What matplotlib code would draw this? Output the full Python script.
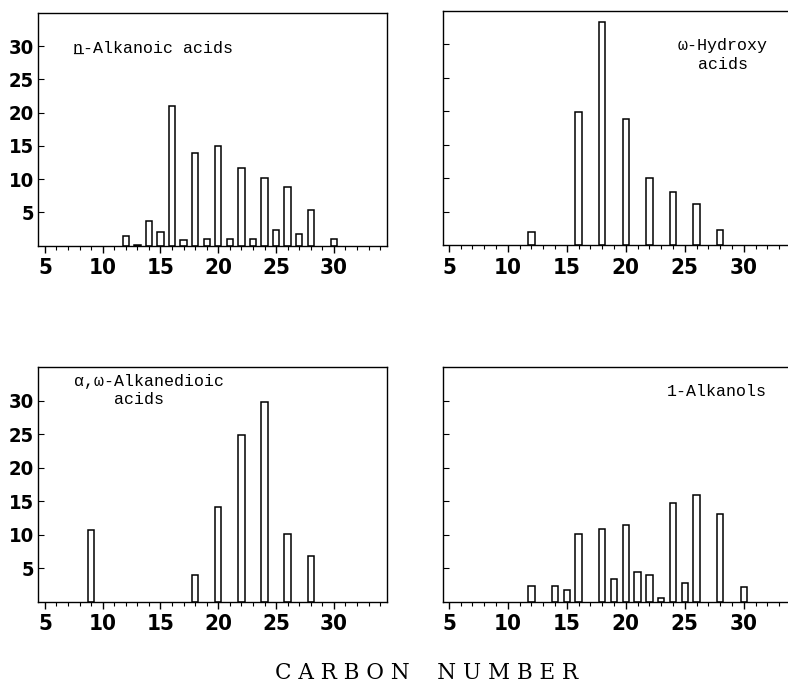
import matplotlib
matplotlib.use('Agg')
import matplotlib.pyplot as plt
from matplotlib.ticker import MultipleLocator

# carbon number / relative abundance (%)
alkanoic_c = [12, 13, 14, 15, 16, 17, 18, 19, 20, 21, 22, 23, 24, 25, 26, 27, 28, 30]
alkanoic_v = [1.4, 0.15, 3.7, 2.0, 21.0, 0.8, 13.9, 1.0, 15.0, 1.0, 11.6, 1.0, 10.1, 2.3, 8.75, 1.8, 5.3, 1.0]

hydroxy_c = [12, 16, 18, 20, 22, 24, 26, 28]
hydroxy_v = [1.9, 19.9, 33.4, 18.9, 10.0, 8.0, 6.2, 2.2]

dioic_c = [9, 18, 20, 22, 24, 26, 28]
dioic_v = [10.7, 3.95, 14.2, 24.9, 29.8, 10.2, 6.8]

alkanol_c = [12, 14, 15, 16, 18, 19, 20, 21, 22, 23, 24, 25, 26, 28, 30]
alkanol_v = [2.4, 2.4, 1.8, 10.2, 10.8, 3.4, 11.4, 4.5, 4.0, 0.6, 14.8, 2.85, 15.9, 13.1, 2.3]

x_major = [5, 10, 15, 20, 25, 30]
y_major = [5, 10, 15, 20, 25, 30]

tick_font = ['DejaVu Sans']
mono = ['Liberation Mono', 'DejaVu Sans Mono']

fig = plt.figure(figsize=(7.88, 6.85), dpi=100)

W, H = 788, 685
def px_axes(l, t, r, b):
    return fig.add_axes([l / W, 1 - b / H, (r - l) / W, (b - t) / H])

ax_tl = px_axes(38, 13, 387, 245.5)
ax_tr = px_axes(443, 11, 798, 245)
ax_bl = px_axes(38, 367, 387, 602)
ax_br = px_axes(443, 367, 798, 602)

panels = [
    (ax_tl, alkanoic_c, alkanoic_v, True, (4.4, 34.6)),
    (ax_tr, hydroxy_c, hydroxy_v, False, (4.5, 34.6)),
    (ax_bl, dioic_c, dioic_v, True, (4.4, 34.6)),
    (ax_br, alkanol_c, alkanol_v, False, (4.5, 34.6)),
]

for ax, c, v, ylab, xl in panels:
    ax.bar(c, v, width=0.55, facecolor='white', edgecolor='black', linewidth=1.1)
    ax.set_xlim(*xl)
    ax.set_ylim(0, 35)
    ax.set_xticks(x_major)
    ax.xaxis.set_minor_locator(MultipleLocator(1))
    ax.set_yticks(y_major)
    ax.tick_params(axis='x', which='major', direction='out', length=5, width=1, pad=4)
    ax.tick_params(axis='x', which='minor', direction='out', length=3, width=0.8)
    ax.tick_params(axis='y', which='major', direction='in', length=4, width=0.8, pad=3)
    for lab in ax.get_xticklabels():
        lab.set_family(tick_font); lab.set_fontweight('bold'); lab.set_fontsize(16)
        lab.set_fontstretch('condensed')
    if ylab:
        for lab in ax.get_yticklabels():
            lab.set_family(tick_font); lab.set_fontweight('bold'); lab.set_fontsize(14.5)
            lab.set_fontstretch('condensed')
    else:
        ax.set_yticklabels([])
        ax.spines['right'].set_visible(False)
    for s in ax.spines.values():
        s.set_linewidth(1.0)

ax_tl.text(7.4, 29, 'n-Alkanoic acids', family=mono, fontsize=12, va='baseline', ha='left')
ax_tl.text(7.4, 29, '_', family=mono, fontsize=12, va='baseline', ha='left')
ax_tr.text(28.25, 28.4, 'ω-Hydroxy\nacids', family=mono, fontsize=12, va='center', ha='center',
           multialignment='center', linespacing=1.3)
ax_bl.text(7.5, 31.5, 'α,ω-Alkanedioic\n    acids', family=mono, fontsize=12, va='center', ha='left',
           linespacing=1.3)
ax_br.text(23.5, 31.4, '1-Alkanols', family=mono, fontsize=12, va='center', ha='left')

fig.text(427 / W, 1 - 673 / H, 'C A R B O N    N U M B E R', family=['DejaVu Serif'],
         fontsize=15.5, ha='center', va='center')

fig.savefig('out.png', dpi=100)
